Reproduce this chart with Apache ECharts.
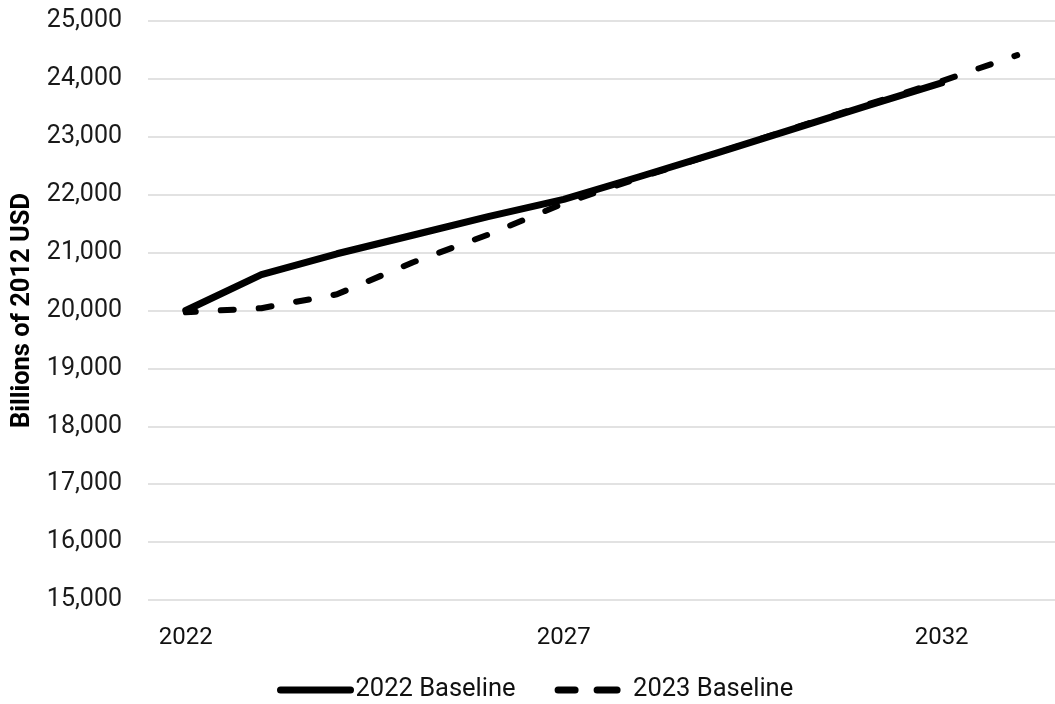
<!DOCTYPE html>
<html>
<head>
<meta charset="utf-8">
<script src="https://cdn.jsdelivr.net/npm/echarts@6/dist/echarts.min.js"></script>
<style>
html,body{margin:0;padding:0;background:#fff;}
#chart{width:1055px;height:704px;}
</style>
</head>
<body>
<div id="chart"></div>
<script>
const years = ['2022','2023','2024','2025','2026','2027','2028','2029','2030','2031','2032','2033'];
const baseline2022 = [20000, 20620, 20980, 21300, 21620, 21920, 22310, 22710, 23120, 23530, 23930];
const baseline2023 = [19970, 20040, 20280, 20830, 21310, 21850, 22290, 22710, 23130, 23550, 23960, 24410];
const seriesNames = ['2022 Baseline', '2023 Baseline'];
const yTitle = 'Billions of 2012 USD';

const chart = echarts.init(document.getElementById('chart'), null, {renderer: 'canvas'});
const font = 'Roboto, "Liberation Sans", sans-serif';
chart.setOption({
  animation: false,
  backgroundColor: '#ffffff',
  grid: {left: 148, right: -10, top: 21, bottom: 104, containLabel: false},
  legend: {
    data: [
      {name: seriesNames[0], lineStyle: {width: 7, cap: 'round'}},
      {name: seriesNames[1], lineStyle: {width: 7, type: [20, 22], cap: 'round'}}
    ],
    bottom: -4,
    left: 272,
    itemWidth: 70,
    itemHeight: 14,
    itemGap: 39,
    itemStyle: {opacity: 0},
    textStyle: {fontFamily: font, fontSize: 25.5, color: '#111'}
  },
  xAxis: {
    type: 'category',
    data: years,
    boundaryGap: true,
    axisLine: {show: false},
    axisTick: {show: false},
    axisLabel: {interval: 4, margin: 26, fontFamily: font, fontSize: 24, color: '#111'}
  },
  yAxis: {
    type: 'value',
    min: 15000,
    max: 25000,
    interval: 1000,
    name: yTitle,
    nameLocation: 'middle',
    nameGap: 106,
    nameRotate: 90,
    nameTextStyle: {fontFamily: font, fontSize: 25.5, fontWeight: 'bold', color: '#000'},
    axisLine: {show: false},
    axisTick: {show: false},
    axisLabel: {
      margin: 26, fontFamily: font, fontSize: 25, color: '#1a1a1a',
      formatter: v => v.toLocaleString('en-US')
    },
    splitLine: {lineStyle: {color: '#d9d9d9', width: 1.5}}
  },
  series: [
    {
      name: seriesNames[0],
      type: 'line',
      data: baseline2022,
      symbol: 'none',
      lineStyle: {color: '#000', width: 7, cap: 'round', join: 'round'},
      itemStyle: {color: '#000'},
      z: 3
    },
    {
      name: seriesNames[1],
      type: 'line',
      data: baseline2023,
      symbol: 'none',
      lineStyle: {color: '#000', width: 6, type: [13, 25], dashOffset: 3, cap: 'round', join: 'round'},
      itemStyle: {color: '#000'},
      z: 2
    }
  ]
});
</script>
</body>
</html>
